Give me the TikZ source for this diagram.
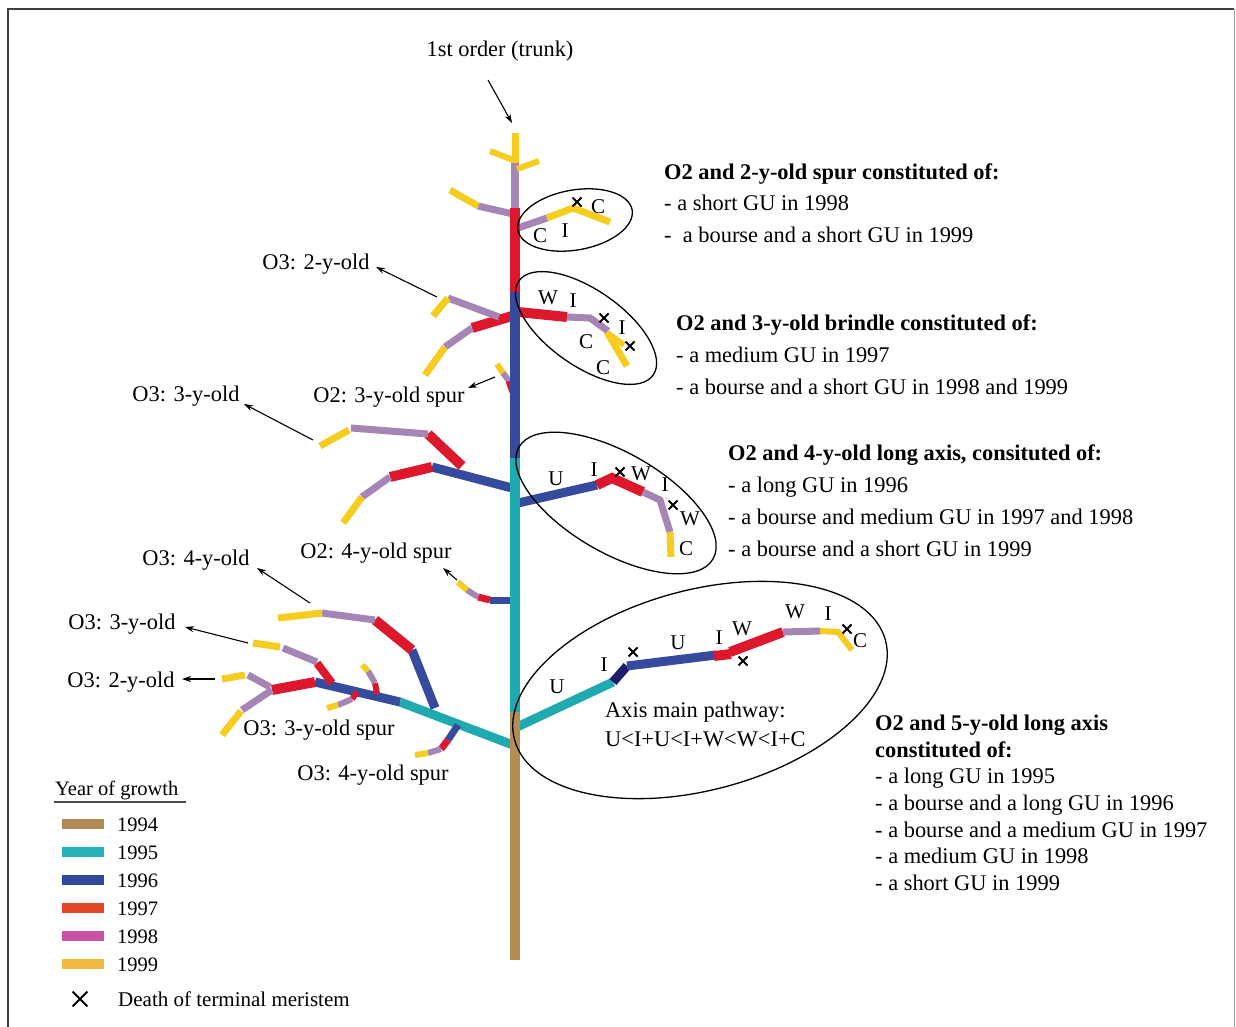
\documentclass[tikz,border=0pt]{standalone}
\usepackage{fontspec}
\setmainfont{Liberation Serif}
\usetikzlibrary{arrows.meta,shapes.misc}
\definecolor{cBrown}{RGB}{180,140,85}
\definecolor{cTeal}{RGB}{30,170,174}
\definecolor{cBlue}{RGB}{55,75,158}
\definecolor{cNavy}{RGB}{30,28,110}
\definecolor{cRed}{RGB}{222,24,44}
\definecolor{cPurple}{RGB}{165,132,182}
\definecolor{cYellow}{RGB}{246,204,30}
\definecolor{lBrown}{RGB}{176,136,84}
\definecolor{lTeal}{RGB}{40,176,184}
\definecolor{lBlue}{RGB}{48,72,156}
\definecolor{lRed}{RGB}{228,70,40}
\definecolor{lPurple}{RGB}{200,80,160}
\definecolor{lYellow}{RGB}{240,184,64}
\tikzset{
  gu/.style={line cap=butt, line join=miter},
  Y94/.style={gu, draw=cBrown, line width=#1}, Y94/.default=10pt,
  Y95/.style={gu, draw=cTeal, line width=#1}, Y95/.default=9pt,
  Y96/.style={gu, draw=cBlue, line width=#1}, Y96/.default=9pt,
  YNv/.style={gu, draw=cNavy, line width=#1}, YNv/.default=9pt,
  Y97/.style={gu, draw=cRed, line width=#1}, Y97/.default=10pt,
  Y98/.style={gu, draw=cPurple, line width=#1}, Y98/.default=7pt,
  Y99/.style={gu, draw=cYellow, line width=#1}, Y99/.default=7pt,
  lab/.style={font=\fontsize{22.4}{26}\selectfont, inner sep=0pt},
  hd/.style={font=\fontsize{22.4}{26}\selectfont\bfseries, inner sep=0pt, anchor=base west},
  ln/.style={lab, anchor=base west},
  gl/.style={font=\fontsize{21}{24}\selectfont, inner sep=0pt, anchor=base},
  leg/.style={font=\fontsize{20.5}{24}\selectfont, inner sep=0pt, anchor=base west},
  ell/.style={draw=black, line width=1.3pt},
  arr/.style={draw=black, line width=1.1pt, -{Stealth[length=9pt,width=6pt]}},
  xm/.style={draw=black, cross out, line width=2pt, minimum size=7pt, inner sep=0pt},
  sw/.style={line width=10pt, line cap=butt}
}
\begin{document}
\begin{tikzpicture}[x=1pt,y=-1pt]
\useasboundingbox (0,0) rectangle (1236,1027);
\fill[white] (0,0) rectangle (1236,1027);
% frame
\draw[line width=1.5pt, black!75] (8,1027) -- (8,9) -- (1234,9);
\draw[line width=0.8pt, black!35] (1234,9) -- (1234,1027);

% ---------- branches ----------
% top left
\draw[Y98] (513,214) -- (478,206);
\draw[Y99] (478,206) -- (450,190);
% ellipse 1 branch
\draw[Y98] (518,228) -- (547,218);
\draw[Y99] (547,218) -- (573,208) -- (610,222);
% left O2 at 316 + O3 2-y-old
\draw[Y97] (512,316) -- (472,328);
\draw[Y98] (472,328) -- (445,347);
\draw[Y99] (445,347) -- (425,375);
\draw[Y98] (499,317) -- (448,298);
\draw[Y99] (448,298) -- (433,316);
% ellipse 2 branch
\draw[Y97] (518,312) -- (567,317);
\draw[Y98] (567,317) -- (590,318) -- (608,331);
\draw[Y99] (607,332) -- (627,366);
\draw[Y99=6pt] (610,335) -- (624,345);
% O2 3-y-old spur
\draw[Y99=6pt] (497,364) -- (503,373);
\draw[Y98=6pt] (503,373) -- (509,381);
\draw[Y97=7pt] (509,381) -- (513,392);
% left O2 at 488 + O3 3-y-old
\draw[Y96] (512,488) -- (432,467);
\draw[Y97] (432,467) -- (390,477);
\draw[Y98] (390,477) -- (362,497);
\draw[Y99] (362,497) -- (343,523);
\draw[Y97] (462,466) -- (428,434);
\draw[Y98] (428,434) -- (351,428);
\draw[Y99] (349,430) -- (320,446);
% ellipse 3 branch
\draw[Y96] (518,503) -- (597,485);
\draw[Y97] (597,485) -- (612,478) -- (643,492);
\draw[Y98] (643,492) -- (660,500) -- (670,532);
\draw[Y99] (670,532) -- (671,557);
% O2 4-y-old spur
\draw[Y96=7pt] (512,600) -- (490,600);
\draw[Y97=7pt] (490,600) -- (478,597);
\draw[Y98=6pt] (478,597) -- (467,590);
\draw[Y99=6pt] (467,590) -- (458,582);
% ellipse 4 branch
\draw[Y95] (517,727) -- (613,682);
\draw[YNv] (613,682) -- (627,666);
\draw[Y96] (627,666) -- (716,655);
\draw[Y97] (714,656) -- (731,654);
\draw[Y97] (730,652) -- (783,632);
\draw[Y98] (783,632) -- (820,631);
\draw[Y99=6pt] (820,631) -- (838,632) -- (852,650);
% bottom left system
\draw[Y95] (513,745) -- (400,702);
\draw[Y96] (400,702) -- (315,682);
\draw[Y97] (315,682) -- (272,690);
\draw[Y98] (272,690) -- (242,710);
\draw[Y99] (241,711) -- (222,735);
\draw[Y98] (270,687) -- (248,675);
\draw[Y99] (245,675) -- (222,679);
\draw[Y96] (435,708) -- (412,650);
\draw[Y97] (412,650) -- (375,620);
\draw[Y98] (375,620) -- (322,613);
\draw[Y99] (322,613) -- (278,618);
\draw[Y97=8pt] (332,683) -- (317,663);
\draw[Y98] (317,662) -- (283,648);
\draw[Y99] (280,647) -- (253,643);
\draw[Y97=6pt] (357,692) -- (352,699);
\draw[Y98=6pt] (352,699) -- (338,705);
\draw[Y99=6pt] (338,705) -- (327,708);
\draw[Y97=6pt] (377,694) -- (375,683);
\draw[Y98=6pt] (375,683) -- (368,671);
\draw[Y99=6pt] (368,671) -- (362,665);
\draw[Y96=7pt] (458,725) -- (448,740);
\draw[Y97=7pt] (448,740) -- (441,749);
\draw[Y98=6pt] (441,749) -- (428,753);
\draw[Y99=6pt] (428,753) -- (415,755);

% ---------- trunk ----------
\draw[Y94] (515,712) -- (515,960);
\draw[Y95=10pt] (515,458) -- (515,712);
\draw[Y96=10pt] (515,292) -- (515,458);
\draw[Y97] (515,208) -- (515,292);
\draw[Y98=8pt] (515,163) -- (515,208);
\draw[Y99] (515,133) -- (515,163);
\draw[Y99=6pt] (490,151) -- (513,160);
\draw[Y99=6pt] (517,169) -- (539,161);

% ---------- ellipses ----------
\draw[ell, rotate around={10:(575,220)}] (575,220) ellipse [x radius=58pt, y radius=30pt];
\draw[ell, rotate around={-35:(586,328)}] (586,328) ellipse [x radius=82pt, y radius=38pt];
\draw[ell, rotate around={-30:(616,503)}] (616,503) ellipse [x radius=112pt, y radius=50pt];
\draw[ell, rotate around={15:(700,690)}] (700,690) ellipse [x radius=192pt, y radius=100pt];

% ---------- death marks ----------
\node[xm] (x1) at (577,202) {};
\node[xm] (x2) at (604,318) {};
\node[xm] (x3) at (630,346) {};
\node[xm] (x4) at (620,472) {};
\node[xm] (x5) at (673,505) {};
\node[xm] (x6) at (633,652) {};
\node[xm] (x7) at (743,661) {};
\node[xm] (x8) at (847,629) {};

% ---------- GU letters ----------
\node[gl] (g1) at (540,242) {C};
\node[gl] (g2) at (565,237) {I};
\node[gl] (g3) at (598,214) {C};
\node[gl] (g4) at (548,304) {W};
\node[gl] (g5) at (573,307) {I};
\node[gl] (g6) at (586,348) {C};
\node[gl] (g7) at (622,334) {I};
\node[gl] (g8) at (603,374) {C};
\node[gl] (g9) at (556,485) {U};
\node[gl] (g10) at (594,476) {I};
\node[gl] (g11) at (641,480) {W};
\node[gl] (g12) at (665,491) {I};
\node[gl] (g13) at (690,525) {W};
\node[gl] (g14) at (686,555) {C};
\node[gl] (g15) at (557,693) {U};
\node[gl] (g16) at (604,671) {I};
\node[gl] (g17) at (678,649) {U};
\node[gl] (g18) at (719,644) {I};
\node[gl] (g19) at (742,635) {W};
\node[gl] (g20) at (795,618) {W};
\node[gl] (g21) at (828,620) {I};
\node[gl] (g22) at (860,647) {C};
\node[ln] (ax1) at (605,717) {Axis main pathway:};
\node[ln] (ax2) at (605,746) {U<I+U<I+W<W<I+C};

% ---------- labels and arrows ----------
\node[lab, anchor=base] (t1) at (500,57) {1st order (trunk)};
\node[lab, anchor=base] (t2) at (316,269) {O3: 2-y-old};
\node[lab, anchor=base] (t3) at (389,402) {O2: 3-y-old spur};
\node[lab, anchor=base] (t4) at (186,401) {O3: 3-y-old};
\node[lab, anchor=base] (t5) at (376,558) {O2: 4-y-old spur};
\node[lab, anchor=base] (t6) at (196,565) {O3: 4-y-old};
\node[lab, anchor=base] (t7) at (122,629) {O3: 3-y-old};
\node[lab, anchor=base] (t8) at (121,687) {O3: 2-y-old};
\node[lab, anchor=base] (t9) at (319,735) {O3: 3-y-old spur};
\node[lab, anchor=base] (t10) at (373,780) {O3: 4-y-old spur};

\coordinate (a1s) at (488,80);  \coordinate (a1e) at (512,123);
\coordinate (a2s) at (437,297); \coordinate (a2e) at (376,267);
\coordinate (a3s) at (495,377); \coordinate (a3e) at (468,388);
\coordinate (a4s) at (313,440); \coordinate (a4e) at (244,404);
\coordinate (a5s) at (457,580); \coordinate (a5e) at (443,568);
\coordinate (a6s) at (310,603); \coordinate (a6e) at (257,568);
\coordinate (a7s) at (248,643); \coordinate (a7e) at (185,627);
\coordinate (a8s) at (215,679); \coordinate (a8e) at (182,679);
\draw[arr] (a1s) -- (a1e);
\draw[arr] (a2s) -- (a2e);
\draw[arr] (a3s) -- (a3e);
\draw[arr] (a4s) -- (a4e);
\draw[arr] (a5s) -- (a5e);
\draw[arr] (a6s) -- (a6e);
\draw[arr] (a7s) -- (a7e);
\draw[arr] (a8s) -- (a8e);

% ---------- right text blocks ----------
\node[hd] (b1h) at (664,179) {O2 and 2-y-old spur constituted of:};
\node[ln] (b1a) at (664,211) {- a short GU in 1998};
\node[ln] (b1b) at (664,242) {-\ \ a bourse and a short GU in 1999};

\node[hd] (b2h) at (676,330) {O2 and 3-y-old brindle constituted of:};
\node[ln] (b2a) at (676,362) {- a medium GU in 1997};
\node[ln] (b2b) at (676,394) {- a bourse and a short GU in 1998 and 1999};

\node[hd] (b3h) at (728,460) {O2 and 4-y-old long axis, consituted of:};
\node[ln] (b3a) at (728,492) {- a long GU in 1996};
\node[ln] (b3b) at (728,524) {- a bourse and medium GU in 1997 and 1998};
\node[ln] (b3c) at (728,556) {- a bourse and a short GU in 1999};

\node[hd] (b4h) at (875,730) {O2 and 5-y-old long axis};
\node[hd] (b4i) at (875,757) {constituted of:};
\node[ln] (b4a) at (875,783) {- a long GU in 1995};
\node[ln] (b4b) at (875,810) {- a bourse and a long GU in 1996};
\node[ln] (b4c) at (875,837) {- a bourse and a medium GU in 1997};
\node[ln] (b4d) at (875,863) {- a medium GU in 1998};
\node[ln] (b4e) at (875,890) {- a short GU in 1999};

% ---------- legend ----------
\node[leg] (lt) at (55,795) {Year of growth};
\draw[line width=1.5pt, black!70] (54,802) -- (186,802);
\draw[sw, lBrown] (62,824) -- (104,824);
\draw[sw, lTeal] (62,852) -- (104,852);
\draw[sw, lBlue] (62,880) -- (104,880);
\draw[sw, lRed] (62,908) -- (104,908);
\draw[sw, lPurple] (62,936) -- (104,936);
\draw[sw, lYellow] (62,964) -- (104,964);
\node[leg] (l1) at (117,831) {1994};
\node[leg] (l2) at (117,859) {1995};
\node[leg] (l3) at (117,887) {1996};
\node[leg] (l4) at (117,915) {1997};
\node[leg] (l5) at (117,943) {1998};
\node[leg] (l6) at (117,971) {1999};
\node[draw=black, cross out, line width=1.8pt, minimum size=13pt, inner sep=0pt] (lx) at (80,999) {};
\node[font=\fontsize{21}{24}\selectfont, inner sep=0pt, anchor=base west] (ld) at (118,1006) {Death of terminal meristem};
\end{tikzpicture}
\end{document}
